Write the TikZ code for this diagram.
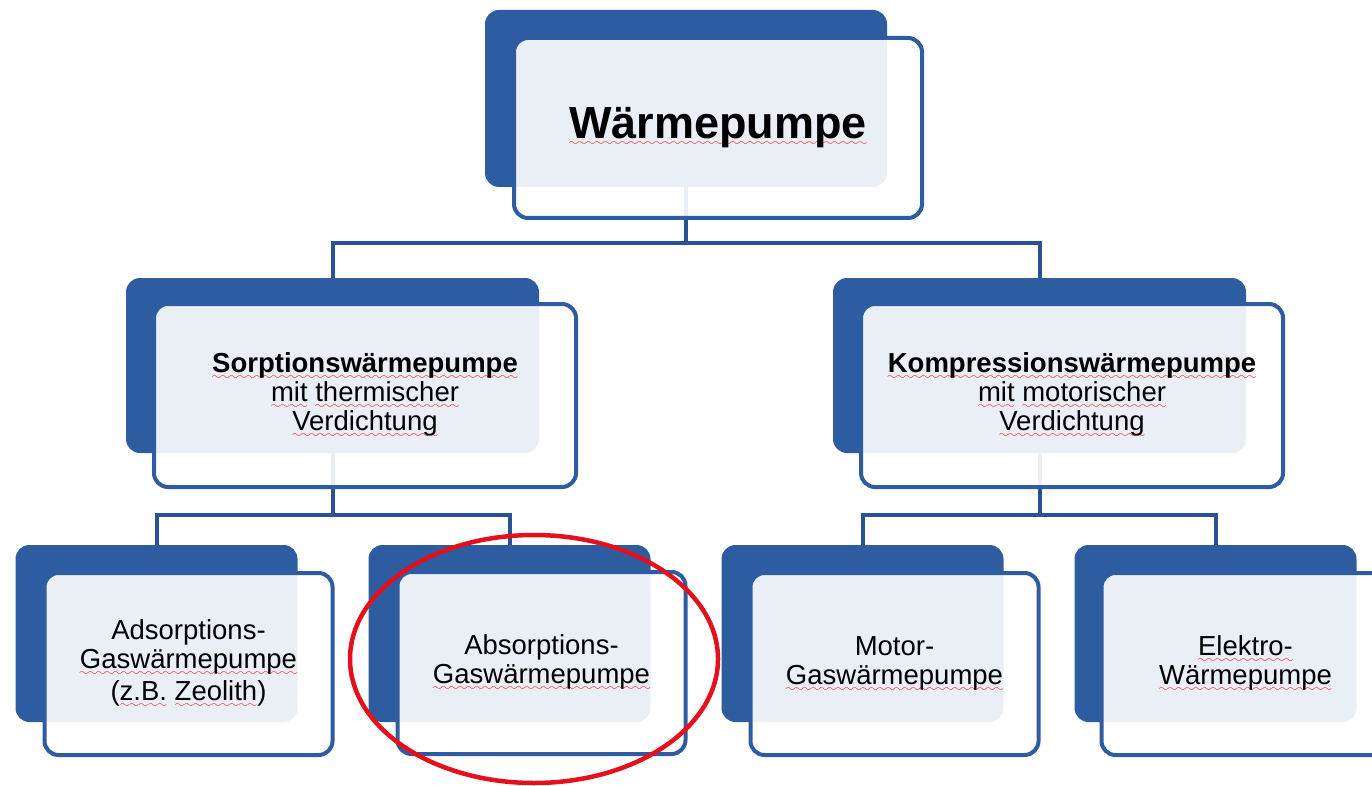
\documentclass[tikz,border=0pt]{standalone}
\usepackage{fontspec}
\setmainfont{Liberation Sans}
\usepackage{tikz}
\usetikzlibrary{positioning}
\usepackage{color}

\definecolor{wpblue}{RGB}{46,92,160}
\definecolor{wpline}{RGB}{40,82,148}
\definecolor{wpred}{RGB}{228,16,28}
\font\wpwave=lasy6 at 10pt
\newcommand{\spell}[1]{\setbox0\hbox{#1}\rlap{\lower7pt\hbox to\wd0{\color{red}\xleaders\hbox{\wpwave\char58}\hfil}}\box0\relax}

\begin{document}
\begin{tikzpicture}[x=1pt, y=-1pt,
shadow/.style={rectangle, fill=wpblue, rounded corners=14pt, outer sep=0pt},
card/.style={rectangle, draw=wpblue, line width=4pt, fill=white, fill opacity=0.9, text opacity=1, rounded corners=14pt, outer sep=0pt, align=center, anchor=north west, font=\fontsize{27.5}{29}\selectfont},
topshadow/.style={shadow, minimum width=402pt, minimum height=177pt},
topnode/.style={card, minimum width=408pt, minimum height=180pt, font=\fontsize{45}{50}\selectfont\bfseries},
midshadow/.style={shadow, minimum width=413pt, minimum height=175pt},
midnode/.style={card, minimum width=422pt, minimum height=183pt},
lowshadow/.style={shadow, minimum width=282pt, minimum height=177pt},
lownode/.style={card, minimum width=288pt, minimum height=182pt},
link/.style={draw=wpline, line width=4pt},
]
\useasboundingbox (0,0) rectangle (1372,786);

%Nodes (back)
\node[topshadow]   (wpback)    at (686,98.5)     {};
\node[midshadow]   (sorpback)  at (332.5,365.5)  {};
\node[midshadow]   (kompback)  at (1039.5,365.5) {};
\node[lowshadow]   (adsback)   at (156.5,633.5)  {};
\node[lowshadow]   (absback)   [right=71pt of adsback]   {};
\node[lowshadow]   (motback)   [right=71pt of absback]   {};
\node[lowshadow]   (elback)    [right=71pt of motback]   {};

%Lines
\coordinate (j1) at (686,243);
\coordinate (j2) at (332.5,515);
\coordinate (j3) at (1039.5,515);
\draw[link] (wpback.south) -- (j1);
\draw[link] (sorpback.north) |- (j1) -| (kompback.north);
\draw[link] (sorpback.south) -- (j2);
\draw[link] (adsback.north) |- (j2) -| (absback.north);
\draw[link] (kompback.south) -- (j3);
\draw[link] (motback.north) |- (j3) -| (elback.north);

%Nodes (front)
\node[topnode] (wp)   at ([shift={(29,28)}]wpback.north west)   {\spell{Wärmepumpe}};
\node[midnode] (sorp) at ([shift={(28,26)}]sorpback.north west) {\textbf{\spell{Sorptionswärmepumpe}}\\ \spell{mit} \spell{thermischer}\\ \spell{Verdichtung}};
\node[midnode] (komp) at ([shift={(28,26)}]kompback.north west) {\textbf{\spell{Kompressionswärmepumpe}}\\ \spell{mit} \spell{motorischer}\\ \spell{Verdichtung}};
\node[lownode] (ads)  at ([shift={(29,28)}]adsback.north west)  {Adsorptions-\\ \spell{Gaswärmepumpe}\\[3pt] (\spell{z.B.} \spell{Zeolith})};
\node[lownode] (abs)  at ([shift={(29,27)}]absback.north west)  {Absorptions-\\ \spell{Gaswärmepumpe}};
\node[lownode] (mot)  at ([shift={(29,28)}]motback.north west)  {Motor-\\ \spell{Gaswärmepumpe}};
\node[lownode] (el)   at ([shift={(27,28)}]elback.north west)   {\spell{Elektro-}\\ \spell{Wärmepumpe}};

%Mark
\draw[wpred, line width=4.5pt] (534,659) ellipse [x radius=184pt, y radius=124pt];
\end{tikzpicture}
\end{document}
